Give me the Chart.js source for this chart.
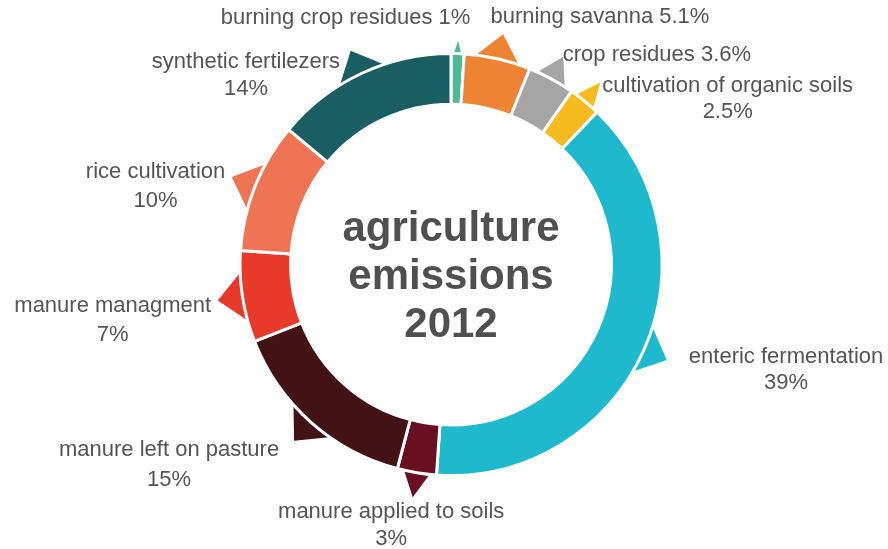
<!DOCTYPE html>
<html>
<head>
<meta charset="utf-8">
<script src="https://cdn.jsdelivr.net/npm/chart.js@4.4.0/dist/chart.umd.min.js"></script>
<style>
  html, body { margin: 0; padding: 0; background: #fff; }
  #wrap { width: 888px; height: 549px; }
</style>
</head>
<body>
<div id="wrap"><canvas id="donut" width="888" height="549"></canvas></div>
<script>
// data (share of agriculture emissions, %)
const categories = [
  "burning crop residues",
  "burning savanna",
  "crop residues",
  "cultivation of organic soils",
  "enteric fermentation",
  "manure applied to soils",
  "manure left on pasture",
  "manure managment",
  "rice cultivation",
  "synthetic fertilezers"
];
const shares = [1, 5.1, 3.6, 2.5, 39, 3, 15, 7, 10, 14];
const centerTitle = ["agriculture", "emissions", "2012"];

const colors = [
  "#4fb996", "#ee8433", "#a5a5a5", "#f6bb1e", "#1fb9cd",
  "#6a0e22", "#421215", "#e8392b", "#ef7453", "#195e63"
];

// label placement relative to each pointer tip: [dx, dy, align, one line?, line gap]
const labelPlace = [
  [12, -14, "right", true, 0],
  [-12, -20, "left", true, 0],
  [1, -5, "left", true, 0],
  [129, 2, "center", false, 26],
  [122, -2, "center", false, 26],
  [-22, 18, "center", false, 27],
  [-127, 11, "center", false, 30],
  [-108, 6, "center", false, 29],
  [-79, -6, "center", false, 29],
  [-106, 8, "center", false, 27]
];

const textColor = "#555555";

// small triangles sticking out of each slice
const pointers = {
  id: "pointers",
  beforeDatasetsDraw(chart) {
    const ctx = chart.ctx;
    chart.getDatasetMeta(0).data.forEach((arc, i) => {
      const { x, y, startAngle, endAngle, outerRadius } = arc;
      const mid = (startAngle + endAngle) / 2;
      const half = Math.min(0.15, (endAngle - startAngle) * 0.42);
      const h = Math.min(25, half * outerRadius * 1.4 + 5);
      const rb = outerRadius - 6;
      ctx.save();
      ctx.fillStyle = colors[i];
      ctx.beginPath();
      ctx.moveTo(x + rb * Math.cos(mid - half), y + rb * Math.sin(mid - half));
      ctx.lineTo(x + (outerRadius + h) * Math.cos(mid), y + (outerRadius + h) * Math.sin(mid));
      ctx.lineTo(x + rb * Math.cos(mid + half), y + rb * Math.sin(mid + half));
      ctx.closePath();
      ctx.fill();
      ctx.restore();
    });
  },
  afterDraw(chart) {
    const ctx = chart.ctx;
    const meta = chart.getDatasetMeta(0);
    ctx.save();
    ctx.fillStyle = textColor;
    ctx.textBaseline = "middle";
    ctx.font = "22px 'Liberation Sans', Arial, sans-serif";
    meta.data.forEach((arc, i) => {
      const { x, y, startAngle, endAngle, outerRadius } = arc;
      const mid = (startAngle + endAngle) / 2;
      const tx = x + (outerRadius + 22) * Math.cos(mid);
      const ty = y + (outerRadius + 22) * Math.sin(mid);
      const [dx, dy, align, oneLine, gap] = labelPlace[i];
      ctx.textAlign = align;
      const pct = shares[i] + "%";
      if (oneLine) {
        ctx.fillText(categories[i] + " " + pct, tx + dx, ty + dy);
      } else {
        ctx.fillText(categories[i], tx + dx, ty + dy);
        ctx.fillText(pct, tx + dx, ty + dy + gap);
      }
    });
    // title in the hole
    const c = meta.data[0];
    ctx.font = "bold 42px 'Liberation Sans', Arial, sans-serif";
    ctx.textAlign = "center";
    ctx.textBaseline = "alphabetic";
    ctx.fillStyle = "#505050";
    centerTitle.forEach((line, k) => {
      ctx.fillText(line, c.x, c.y - 24 + k * 48);
    });
    ctx.restore();
  }
};

new Chart(document.getElementById("donut"), {
  type: "doughnut",
  data: {
    labels: categories,
    datasets: [{
      data: shares,
      backgroundColor: colors,
      borderColor: "#ffffff",
      borderWidth: 3
    }]
  },
  options: {
    responsive: false,
    animation: false,
    cutout: "76%",
    layout: {
      padding: { top: 52, bottom: 72, left: 14, right: 0 }
    },
    plugins: {
      legend: { display: false },
      tooltip: { enabled: false }
    }
  },
  plugins: [pointers]
});
</script>
</body>
</html>
